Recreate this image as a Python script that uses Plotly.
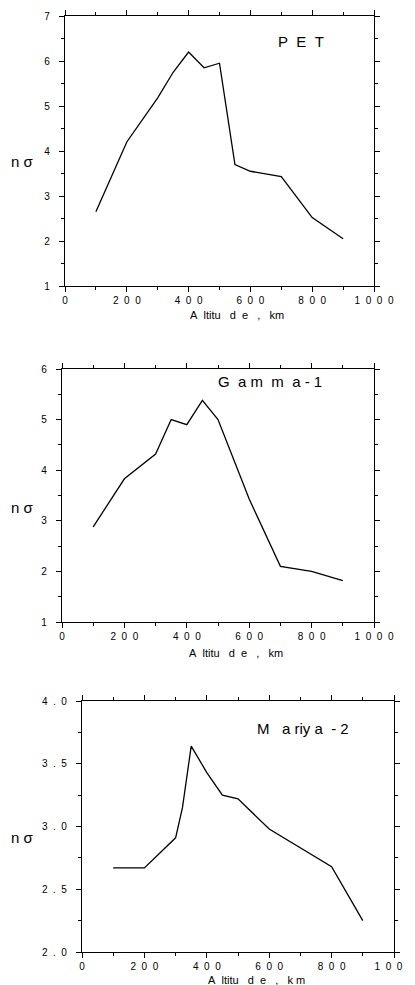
import plotly.graph_objects as go

# page offset (body margin) and figure size so that it fits the 415x985 window
OFF = 8
W, H = 415 - OFF, 985 - OFF

# ---- data ----
pet_alt = [100, 200, 300, 350, 400, 450, 500, 550, 600, 700, 800, 900]
pet_n = [2.65, 4.2, 5.18, 5.75, 6.2, 5.85, 5.95, 3.7, 3.55, 3.43, 2.52, 2.05]

gam_alt = [100, 200, 300, 350, 400, 450, 500, 600, 700, 800, 900]
gam_n = [2.88, 3.83, 4.32, 5.0, 4.9, 5.38, 5.0, 3.43, 2.1, 2.0, 1.82]

mar_alt = [100, 200, 300, 322, 350, 400, 450, 500, 600, 800, 900]
mar_n = [2.67, 2.67, 2.91, 3.15, 3.64, 3.43, 3.25, 3.22, 2.98, 2.68, 2.25]

x_ticks = [0, 200, 400, 600, 800, 1000]
pet_yticks = [1, 2, 3, 4, 5, 6, 7]
gam_yticks = [1, 2, 3, 4, 5, 6]
mar_yticks = [2.0, 2.5, 3.0, 3.5, 4.0]

N = "\u00a0"
titles = ["P" + N * 2 + "E" + N * 2 + "T",
          "G" + N * 2 + "a" + N + "m" + N * 2 + "m" + N * 2 + "a" + N + "-" + N + "1",
          "M" + N * 3 + "a" + N + "riy" + N + "a" + N * 2 + "-" + N + "2"]
xlabels = ["A" + N * 2 + "ltitu" + N * 3 + "d" + N * 2 + "e" + N * 3 + "," + N * 3 + "km",
           "A" + N * 2 + "ltitu" + N * 3 + "d" + N * 2 + "e" + N * 3 + "," + N * 3 + "km",
           "A" + N * 2 + "ltitu" + N * 3 + "d" + N * 2 + "e" + N * 3 + "," + N * 3 + "k" + N + "m"]
ylabel = "n" + N + "σ"

SEP = N * 2


def spaced(s):
    return SEP.join(list(s))


def fx(px):
    return (px - OFF) / W


def fy(py):
    return 1 - (py - OFF) / H


# pixel boxes in screen pixels (left, top, right, bottom)
boxes = [(65, 16, 374, 286), (62, 369, 374, 622), (82, 701, 394, 952)]

fig = go.Figure()
FONT = "Liberation Sans, Arial, sans-serif"

series = [(pet_alt, pet_n, pet_yticks, [1, 7], "{:g}"),
          (gam_alt, gam_n, gam_yticks, [1, 6], "{:g}"),
          (mar_alt, mar_n, mar_yticks, [2, 4], "{:.1f}")]

for i, (xs, ys, yt, yr, fmt) in enumerate(series):
    l, t, r, b = boxes[i]
    xa = "x" if i == 0 else f"x{i+1}"
    ya = "y" if i == 0 else f"y{i+1}"
    fig.add_trace(go.Scatter(x=xs, y=ys, mode="lines",
                             line=dict(color="black", width=1.3),
                             xaxis=xa, yaxis=ya, showlegend=False))
    axcommon = dict(showgrid=False, zeroline=False, showline=True, automargin=False,
                    linecolor="black", linewidth=1.2, mirror="ticks",
                    ticks="outside", ticklen=5, tickcolor="black",
                    tickfont=dict(family=FONT, size=10, color="black"))
    xkey = "xaxis" if i == 0 else f"xaxis{i+1}"
    ykey = "yaxis" if i == 0 else f"yaxis{i+1}"
    fig.update_layout(**{
        xkey: dict(domain=[fx(l), fx(r)], anchor=ya, range=[0, 1000],
                   tickvals=x_ticks, ticktext=[spaced(str(v)) for v in x_ticks],
                   minor=dict(dtick=100, ticks="outside", ticklen=3, tickcolor="black"),
                   **axcommon),
        ykey: dict(domain=[fy(b), fy(t)], anchor=xa, range=yr,
                   tickvals=yt, ticktext=[spaced(fmt.format(v)) for v in yt],
                   minor=dict(dtick=(yt[1] - yt[0]) / 2, ticks="outside", ticklen=3,
                              tickcolor="black"),
                   ticklabelstandoff=7,
                   **axcommon),
    })

# annotations: panel titles, axis labels (screen pixel centres)
title_pos = [(301, 42), (270, 381), (303, 728)]
xlab_pos = [(237, 315), (236, 653), (256, 980)]
ylab_pos = [(22, 161), (22, 507), (22, 837)]
ann = []
for i in range(3):
    ann.append(dict(text=titles[i], x=fx(title_pos[i][0]), y=fy(title_pos[i][1]),
                    xref="paper", yref="paper", showarrow=False,
                    xanchor="center", yanchor="middle",
                    font=dict(family=FONT, size=15, color="black")))
    ann.append(dict(text=xlabels[i], x=fx(xlab_pos[i][0]), y=fy(xlab_pos[i][1]),
                    xref="paper", yref="paper", showarrow=False,
                    xanchor="center", yanchor="middle",
                    font=dict(family=FONT, size=11, color="black")))
    ann.append(dict(text=ylabel, x=fx(ylab_pos[i][0]), y=fy(ylab_pos[i][1]),
                    xref="paper", yref="paper", showarrow=False,
                    xanchor="center", yanchor="middle",
                    font=dict(family=FONT, size=15, color="black")))

fig.update_layout(width=W, height=H, margin=dict(l=0, r=0, t=0, b=0),
                  paper_bgcolor="white", plot_bgcolor="white",
                  annotations=ann)

fig.write_html("out.html")
